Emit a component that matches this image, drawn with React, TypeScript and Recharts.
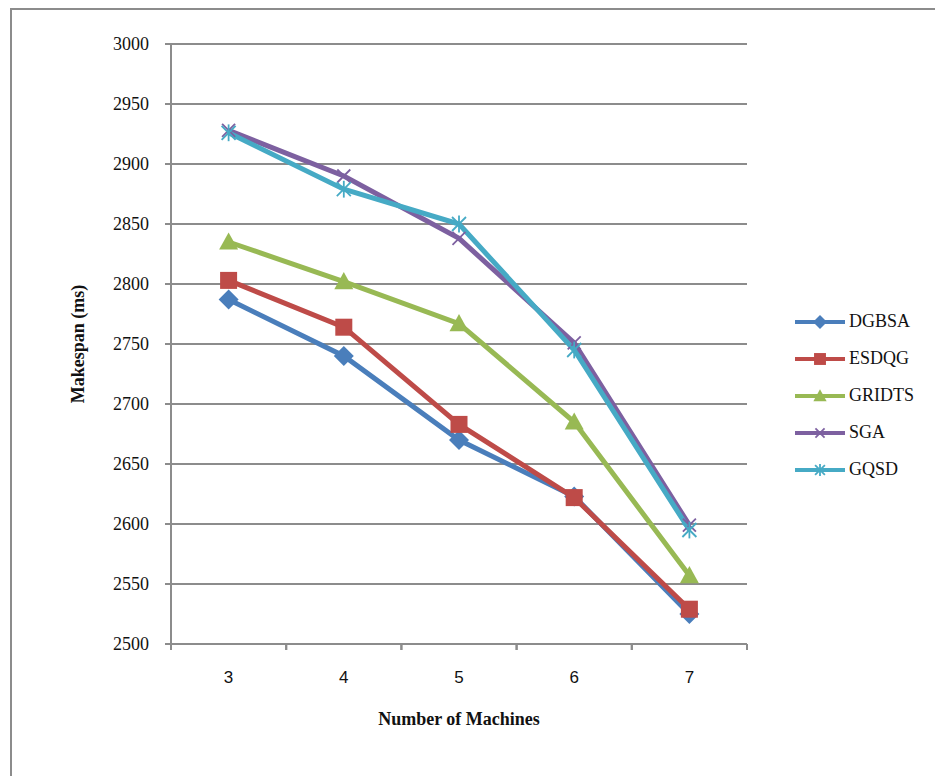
import { CartesianGrid, Line, LineChart, XAxis, YAxis } from 'recharts'

const machines = ['3', '4', '5', '6', '7']
const dgbsa = [2787, 2740, 2670, 2623, 2525]
const esdqg = [2803, 2764, 2683, 2622, 2529]
const gridts = [2835, 2802, 2767, 2685, 2557]
const sga = [2928, 2890, 2838, 2751, 2599]
const gqsd = [2926, 2879, 2850, 2745, 2595]
const yTicks = [2500, 2550, 2600, 2650, 2700, 2750, 2800, 2850, 2900, 2950, 3000]

const data = machines.map((m, i) => ({
  m,
  DGBSA: dgbsa[i],
  ESDQG: esdqg[i],
  GRIDTS: gridts[i],
  SGA: sga[i],
  GQSD: gqsd[i],
}))

const serif = '"Liberation Serif", "Times New Roman", serif'
const sans = '"Liberation Sans", Arial, sans-serif'
const AXIS = '#8c8c8c'

type Shape = 'diamond' | 'square' | 'triangle' | 'x' | 'star'

const series: { key: string; color: string; shape: Shape }[] = [
  { key: 'DGBSA', color: '#4a7ebb', shape: 'diamond' },
  { key: 'ESDQG', color: '#be4b48', shape: 'square' },
  { key: 'GRIDTS', color: '#98b954', shape: 'triangle' },
  { key: 'SGA', color: '#7d60a0', shape: 'x' },
  { key: 'GQSD', color: '#46aac5', shape: 'star' },
]

function Marker({ cx, cy, shape, color, s = 1 }: { cx: number; cy: number; shape: Shape; color: string; s?: number }) {
  if (cx == null || cy == null) return null
  switch (shape) {
    case 'diamond': {
      const r = 10 * s
      return <polygon points={`${cx},${cy - r} ${cx + r},${cy} ${cx},${cy + r} ${cx - r},${cy}`} fill={color} />
    }
    case 'square': {
      const h = 8.5 * s
      return <rect x={cx - h} y={cy - h} width={2 * h} height={2 * h} fill={color} />
    }
    case 'triangle': {
      const h = 9.5 * s
      return <polygon points={`${cx},${cy - h} ${cx + h},${cy + h * 0.8} ${cx - h},${cy + h * 0.8}`} fill={color} />
    }
    case 'x': {
      const h = 6.5 * s
      return (
        <g stroke={color} strokeWidth={1.8}>
          <line x1={cx - h} y1={cy - h} x2={cx + h} y2={cy + h} />
          <line x1={cx - h} y1={cy + h} x2={cx + h} y2={cy - h} />
        </g>
      )
    }
    case 'star': {
      const h = 7 * s
      return (
        <g stroke={color} strokeWidth={1.8}>
          <line x1={cx - h} y1={cy - h} x2={cx + h} y2={cy + h} />
          <line x1={cx - h} y1={cy + h} x2={cx + h} y2={cy - h} />
          <line x1={cx} y1={cy - h * 1.2} x2={cx} y2={cy + h * 1.2} />
        </g>
      )
    }
  }
}

const PLOT_W = 576
const BAND = PLOT_W / machines.length

// recharts hands the tick y already shifted by tickSize + tickMargin (6 + 2)
function XTick(props: any) {
  const { x, y, payload } = props
  const axisY = y - 8
  return (
    <g>
      <line x1={x - BAND / 2} y1={axisY} x2={x - BAND / 2} y2={axisY + 6} stroke={AXIS} strokeWidth={2} />
      <line x1={x + BAND / 2} y1={axisY} x2={x + BAND / 2} y2={axisY + 6} stroke={AXIS} strokeWidth={2} />
      <text x={x} y={axisY + 39} textAnchor="middle" fontFamily={sans} fontSize={17} fill="#111">
        {payload.value}
      </text>
    </g>
  )
}

function YTick(props: any) {
  const { x, y, payload } = props
  return (
    <text x={x - 14} y={y + 6} textAnchor="end" fontFamily={serif} fontSize={18} fill="#111">
      {payload.value}
    </text>
  )
}

function LegendBox() {
  return (
    <div style={{ position: 'absolute', left: 795, top: 303 }}>
      {series.map((s) => (
        <div key={s.key} style={{ display: 'flex', alignItems: 'center', height: 37 }}>
          <svg width={52} height={20}>
            <line x1={0} y1={10} x2={50} y2={10} stroke={s.color} strokeWidth={4} />
            <Marker cx={25} cy={10} shape={s.shape} color={s.color} s={0.7} />
          </svg>
          <span style={{ fontFamily: serif, fontSize: 18, color: '#111', marginLeft: 2 }}>{s.key}</span>
        </div>
      ))}
    </div>
  )
}

export default function App() {
  return (
    <div style={{ position: 'relative', width: 935, height: 776, background: '#fff', overflow: 'hidden' }}>
      <style>{'body{margin:0}'}</style>
      <div
        style={{
          position: 'absolute',
          left: 10,
          top: 8,
          width: 1000,
          height: 1000,
          borderLeft: `2px solid ${AXIS}`,
          borderTop: `2px solid ${AXIS}`,
        }}
      />
      <LineChart
        width={935}
        height={776}
        data={data}
        margin={{ top: 44, right: 188, bottom: 0, left: 0 }}
        style={{ position: 'absolute', left: 0, top: 0 }}
      >
        <CartesianGrid horizontal vertical={false} stroke={AXIS} strokeWidth={2} />
        <XAxis
          dataKey="m"
          axisLine={{ stroke: AXIS, strokeWidth: 2 }}
          tickLine={false}
          tick={<XTick />}
          interval={0}
          height={132}
          padding={{ left: BAND / 2, right: BAND / 2 }}
          label={{
            value: 'Number of Machines',
            position: 'insideTop',
            offset: 68,
            style: { fontFamily: serif, fontSize: 18, fontWeight: 'bold', fill: '#111' },
          }}
        />
        <YAxis
          width={171}
          domain={[2500, 3000]}
          ticks={yTicks}
          interval={0}
          axisLine={{ stroke: AXIS, strokeWidth: 2 }}
          tickLine={{ stroke: AXIS, strokeWidth: 2 }}
          tickSize={6}
          tick={<YTick />}
          label={{
            value: 'Makespan (ms)',
            angle: -90,
            position: 'insideLeft',
            offset: 78,
            style: { textAnchor: 'middle', fontFamily: serif, fontSize: 18, fontWeight: 'bold', fill: '#111' },
          }}
        />
        {series.map((s) => (
          <Line
            key={s.key}
            dataKey={s.key}
            stroke={s.color}
            strokeWidth={5}
            isAnimationActive={false}
            dot={(p: any) => <Marker key={`${s.key}-${p.index}`} cx={p.cx} cy={p.cy} shape={s.shape} color={s.color} />}
            activeDot={false}
          />
        ))}
      </LineChart>
      <LegendBox />
    </div>
  )
}
